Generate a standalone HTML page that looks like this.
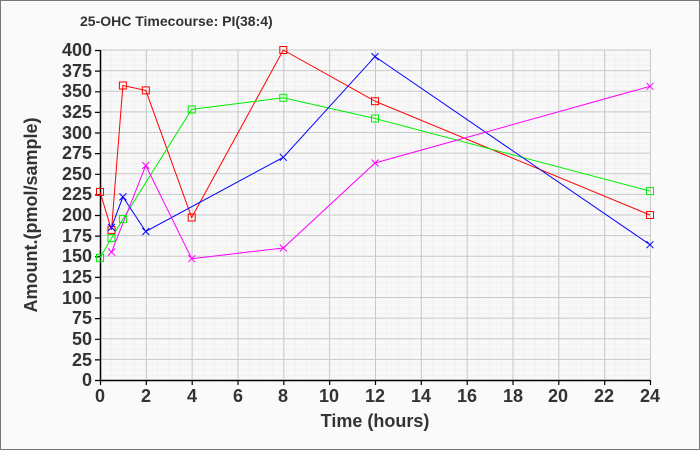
<!DOCTYPE html>
<html><head><style>
html,body{margin:0;padding:0;background:#fafafa}
svg{display:block}
text{font-family:"Liberation Sans",Arial,sans-serif;font-weight:bold;fill:#333}
</style></head><body>
<svg width="700" height="450" viewBox="0 0 700 450" xmlns="http://www.w3.org/2000/svg">
<defs>
<pattern id="minor" x="100" y="50" width="11.4583" height="5.15625" patternUnits="userSpaceOnUse">
<path d="M0 0V5.15625M0 0H11.4583" stroke="#ebebeb" stroke-width="1" fill="none"/>
</pattern>
<pattern id="major" x="100" y="49.5" width="45.8333" height="20.625" patternUnits="userSpaceOnUse">
<path d="M0.5 0V20.625M0 0.5H45.8333" stroke="#c8c8c8" stroke-width="1" fill="none"/>
</pattern>
</defs>
<rect x="0.5" y="0.5" width="699" height="449" fill="#fafafa" stroke="#777" stroke-width="1"/>
<text x="80" y="26" font-size="14" fill="#222">25-OHC Timecourse: PI(38:4)</text>
<rect x="100" y="50" width="550" height="330" fill="#f8f8f8"/>
<rect x="100" y="50" width="550" height="330" fill="url(#minor)"/>
<rect x="100" y="49.5" width="551" height="330" fill="url(#major)"/>
<path d="M100.5 50V380.5H650" stroke="#000" stroke-width="1.5" fill="none"/>
<g stroke="#000" stroke-width="1.2">
<path d="M95 380.5H100M95 359.9H100M95 339.3H100M95 318.6H100M95 298H100M95 277.4H100M95 256.8H100M95 236.1H100M95 215.5H100M95 194.9H100M95 174.3H100M95 153.6H100M95 133H100M95 112.4H100M95 91.8H100M95 71.1H100M95 50.5H100"/>
<path d="M100.5 380V385M146.3 380V385M192.2 380V385M238 380V385M283.8 380V385M329.7 380V385M375.5 380V385M421.3 380V385M467.2 380V385M513 380V385M558.8 380V385M604.7 380V385M650.5 380V385"/>
</g>
<g font-size="18" text-anchor="end">
<text x="92" y="386">0</text><text x="92" y="366">25</text><text x="92" y="345">50</text><text x="92" y="324">75</text>
<text x="92" y="304">100</text><text x="92" y="283">125</text><text x="92" y="262">150</text><text x="92" y="242">175</text>
<text x="92" y="221">200</text><text x="92" y="200">225</text><text x="92" y="180">250</text><text x="92" y="159">275</text>
<text x="92" y="139">300</text><text x="92" y="118">325</text><text x="92" y="97">350</text><text x="92" y="77">375</text><text x="92" y="56">400</text>
</g>
<g font-size="18" text-anchor="middle">
<text x="100" y="402">0</text><text x="146" y="402">2</text><text x="192" y="402">4</text><text x="238" y="402">6</text>
<text x="283" y="402">8</text><text x="329" y="402">10</text><text x="375" y="402">12</text><text x="421" y="402">14</text>
<text x="467" y="402">16</text><text x="513" y="402">18</text><text x="558" y="402">20</text><text x="604" y="402">22</text><text x="650" y="402">24</text>
</g>
<text x="375" y="427" font-size="18" text-anchor="middle">Time (hours)</text>
<text transform="translate(37,215) rotate(-90)" font-size="18" text-anchor="middle">Amount.(pmol/sample)</text>
<g fill="none" stroke-width="1">
<polyline stroke="#ff0000" points="100,191.9 111.5,229.9 122.9,85.5 145.8,90.4 191.7,217.5 283.3,50 375,101.2 650,215"/>
<polyline stroke="#00ee00" points="100,257.9 111.5,238.1 122.9,219.1 191.7,109.4 283.3,97.8 375,118.5 650,191.1"/>
<polyline stroke="#0000ff" points="111.5,227.4 122.9,196.9 145.8,231.5 283.3,157.3 375,56.6 650,244.7"/>
<polyline stroke="#ff00ff" points="111.5,252.1 145.8,165.5 191.7,258.7 283.3,248 375,163 650,86.3"/>
</g>
<g fill="none" stroke="#ff0000" stroke-width="1">
<rect x="96.5" y="188.4" width="7" height="7"/><rect x="108" y="226.4" width="7" height="7"/><rect x="119.4" y="82" width="7" height="7"/><rect x="142.3" y="86.9" width="7" height="7"/><rect x="188.2" y="214" width="7" height="7"/><rect x="279.8" y="46.5" width="7" height="7"/><rect x="371.5" y="97.7" width="7" height="7"/><rect x="646.5" y="211.5" width="7" height="7"/>
</g>
<g fill="none" stroke="#00ee00" stroke-width="1">
<rect x="96.5" y="254.4" width="7" height="7"/><rect x="108" y="234.6" width="7" height="7"/><rect x="119.4" y="215.6" width="7" height="7"/><rect x="188.2" y="105.9" width="7" height="7"/><rect x="279.8" y="94.3" width="7" height="7"/><rect x="371.5" y="115" width="7" height="7"/><rect x="646.5" y="187.6" width="7" height="7"/>
</g>
<g fill="none" stroke="#0000ff" stroke-width="1">
<path d="M108 223.9l7 7m0 -7l-7 7M119.4 193.4l7 7m0 -7l-7 7M142.3 228l7 7m0 -7l-7 7M279.8 153.8l7 7m0 -7l-7 7M371.5 53.1l7 7m0 -7l-7 7M646.5 241.2l7 7m0 -7l-7 7"/>
</g>
<g fill="none" stroke="#ff00ff" stroke-width="1">
<path d="M108 248.6l7 7m0 -7l-7 7M142.3 162l7 7m0 -7l-7 7M188.2 255.2l7 7m0 -7l-7 7M279.8 244.5l7 7m0 -7l-7 7M371.5 159.5l7 7m0 -7l-7 7M646.5 82.8l7 7m0 -7l-7 7"/>
</g>
</svg>
</body></html>
